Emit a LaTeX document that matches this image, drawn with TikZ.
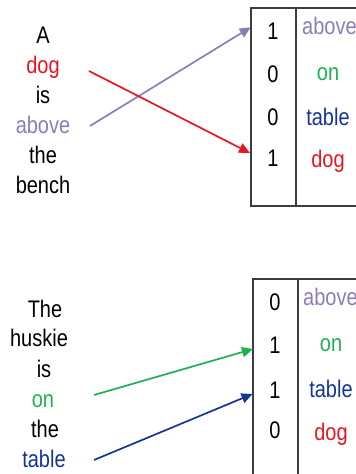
\documentclass[tikz,border=0pt]{standalone}
\usepackage{fontspec}
\usepackage{graphicx}
\setmainfont{Liberation Sans}
\usetikzlibrary{arrows.meta}
\definecolor{cpurple}{RGB}{140,125,182}
\definecolor{cred}{RGB}{232,22,30}
\definecolor{cgreen}{RGB}{28,178,82}
\definecolor{cblue}{RGB}{22,52,150}
\definecolor{cbox}{RGB}{60,60,60}
\newcommand{\tallword}[1]{\scalebox{1}[1.2]{#1}}
\begin{document}
\begin{tikzpicture}[x=1pt,y=-1pt,
  wd/.style={anchor=base,inner sep=0pt,font=\fontsize{20}{24}\selectfont},
  wl/.style={wd,anchor=base west},
  boxline/.style={draw=cbox,line width=1.8pt},
  arr/.style={line width=1.7pt,-{Triangle[length=11pt,width=10pt]}}]
\useasboundingbox (0,0) rectangle (356,474);
\clip (0,0) rectangle (356,474);
% top group
\node[wd] (a1) at (43,43) {\tallword{A}};
\node[wd,text=cred] (a2) at (43,73) {\tallword{dog}};
\node[wd] (a3) at (43,103) {\tallword{is}};
\node[wd,text=cpurple] (a4) at (43,133) {\tallword{above}};
\node[wd] (a5) at (43,163) {\tallword{the}};
\node[wd] (a6) at (43,193) {\tallword{bench}};
\draw[boxline] (380,8.3) -- (250.7,8.3) -- (250.7,205.7) -- (380,205.7);
\draw[boxline] (295.7,8.3) -- (295.7,205.7);
\node[wd] (n1) at (273,39) {\tallword{1}};
\node[wd] (n2) at (273,82) {\tallword{0}};
\node[wd] (n3) at (273,125) {\tallword{0}};
\node[wd] (n4) at (273,166) {\tallword{1}};
\node[wl,text=cpurple] (w1) at (302,34) {\tallword{above}};
\node[wd,text=cgreen] (w2) at (328,80) {\tallword{on}};
\node[wd,text=cblue] (w3) at (328,125) {\tallword{table}};
\node[wd,text=cred] (w4) at (328,167) {\tallword{dog}};
\coordinate (ps) at (90,126);
\coordinate (pe) at (250.7,27.3);
\coordinate (rs) at (89,71);
\coordinate (re) at (250,153);
\draw[arr,cpurple] (ps) -- (pe);
\draw[arr,cred] (rs) -- (re);
% bottom group
\node[wd] (b1) at (45,317) {\tallword{The}};
\node[wd] (b2) at (39,346) {\tallword{huskie}};
\node[wd] (b3) at (44,377) {\tallword{is}};
\node[wd,text=cgreen] (b4) at (43,407) {\tallword{on}};
\node[wd] (b5) at (45,437) {\tallword{the}};
\node[wd,text=cblue] (b6) at (44,467) {\tallword{table}};
\draw[boxline] (380,279.3) -- (253.3,279.3) -- (253.3,480);
\draw[boxline] (297.7,279.3) -- (297.7,480);
\node[wd] (m1) at (275,310) {\tallword{0}};
\node[wd] (m2) at (275,353) {\tallword{1}};
\node[wd] (m3) at (275,398) {\tallword{1}};
\node[wd] (m4) at (275,438) {\tallword{0}};
\node[wl,text=cpurple] (v1) at (303,305) {\tallword{above}};
\node[wd,text=cgreen] (v2) at (331,351) {\tallword{on}};
\node[wd,text=cblue] (v3) at (331,397) {\tallword{table}};
\node[wd,text=cred] (v4) at (331,440) {\tallword{dog}};
\coordinate (gs) at (94,395);
\coordinate (ge) at (253,349);
\coordinate (bs) at (94,460);
\coordinate (be) at (252.5,394);
\draw[arr,cgreen] (gs) -- (ge);
\draw[arr,cblue] (bs) -- (be);
\end{tikzpicture}
\end{document}
